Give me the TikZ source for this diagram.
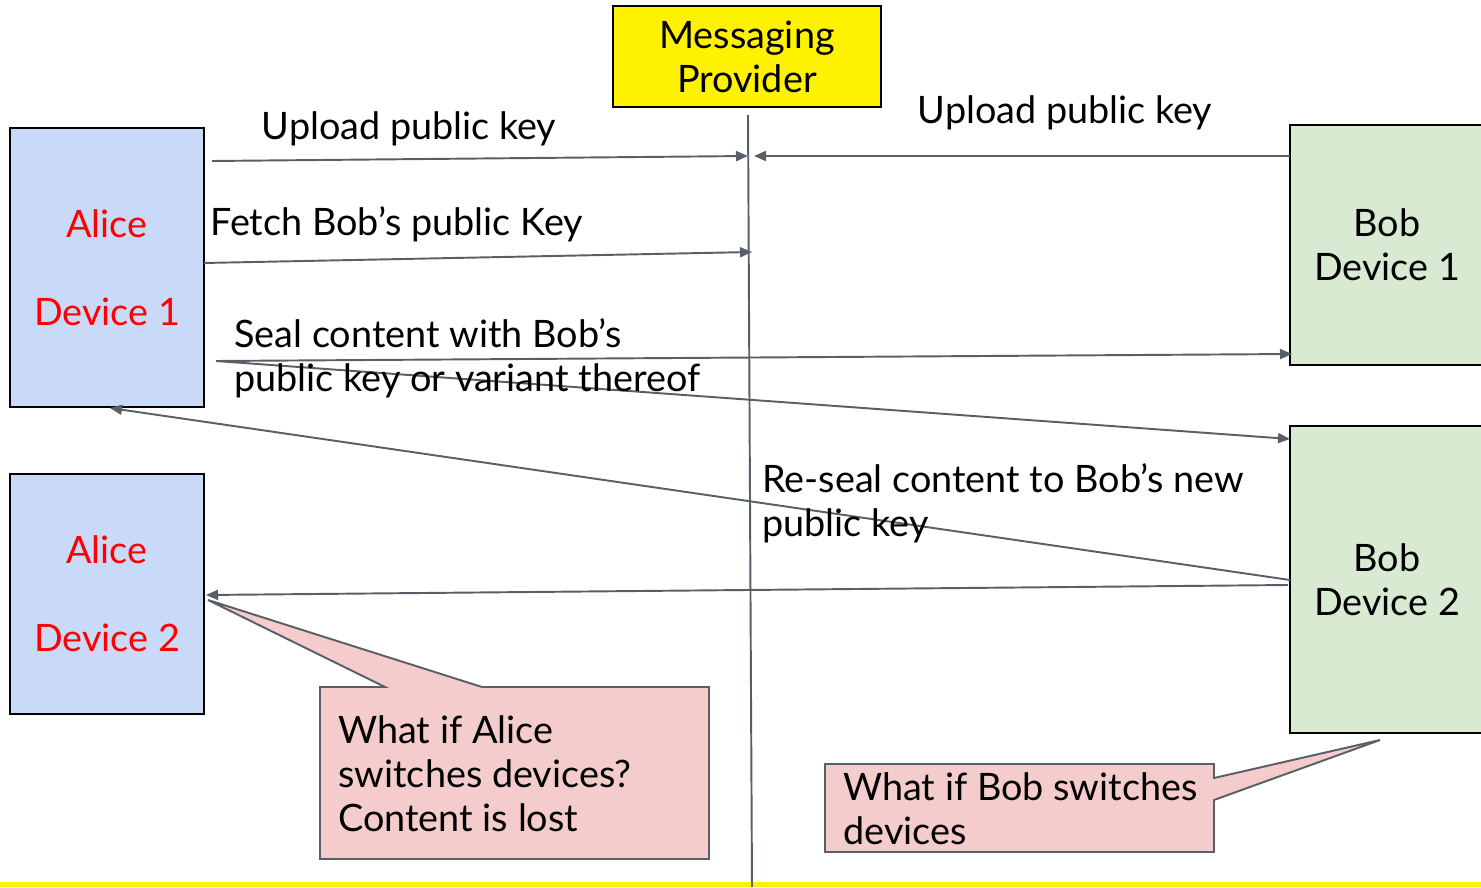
\documentclass[tikz,border=0pt]{standalone}
\usepackage{fontspec}
\setmainfont{Lato}
\usetikzlibrary{arrows.meta, positioning, calc}
\definecolor{aliceblue}{RGB}{201,218,248}
\definecolor{bobgreen}{RGB}{217,234,211}
\definecolor{notepink}{RGB}{244,204,204}
\definecolor{linegray}{RGB}{89,95,102}
\definecolor{alicered}{RGB}{255,0,0}

\tikzset{
  txt/.style={font=\fontsize{21.5}{25}\selectfont, inner sep=0pt},
  devbox/.style={draw=black, line width=1pt, minimum width=3.88cm, align=center, txt},
  msg/.style={draw=linegray, line width=1.1pt, -{Triangle[length=0.24cm, width=0.2cm]}},
  note/.style={draw=linegray, line width=1.1pt, fill=notepink, line join=miter}
}

\begin{document}
\begin{tikzpicture}
  \clip (0,0) rectangle (29.62,17.74);
  \useasboundingbox (0,0) rectangle (29.62,17.74);

  % bottom band
  \fill[yellow] (0,0) rectangle (29.62,0.1);

  % provider and its line
  \node[devbox, fill=yellow, minimum width=5.36cm, minimum height=2.02cm]
    (provider) at (14.94,16.61) {Messaging\\Provider};
  \coordinate (lineTop) at (14.96,15.44);
  \coordinate (lineBot) at (15.04,0);
  \draw[linegray, line width=1.1pt] (lineTop) -- (lineBot);

  % devices
  \node[devbox, fill=aliceblue, minimum height=5.58cm, text=alicered]
    (alice1) at (2.14,12.39) {Alice\\[0.88cm]Device 1};
  \node[devbox, fill=aliceblue, minimum height=4.8cm, text=alicered]
    (alice2) at (2.14,5.86) {Alice\\[0.88cm]Device 2};
  \node[devbox, fill=bobgreen, minimum height=4.8cm]
    (bob1) at (27.74,12.84) {Bob\\Device 1};
  \node[devbox, fill=bobgreen, minimum height=6.14cm]
    (bob2) at (27.74,6.15) {Bob\\Device 2};

  % message end points
  \coordinate (upA) at (4.24,14.52);
  \coordinate (upAend) at (14.96,14.62);
  \coordinate (upB) at (25.8,14.62);
  \coordinate (upBend) at (15.08,14.62);
  \coordinate (fetch) at (4.08,12.48);
  \coordinate (fetchEnd) at (15.04,12.70);
  \coordinate (seal) at (4.32,10.52);
  \coordinate (sealB1) at (25.84,10.66);
  \coordinate (sealB2) at (25.8,8.96);
  \coordinate (reseal) at (25.8,6.14);
  \coordinate (resealEnd) at (2.2,9.58);
  \coordinate (lost) at (25.76,6.04);
  \coordinate (lostEnd) at (4.12,5.84);

  \draw[msg] (upA) -- (upAend);
  \draw[msg] (upB) -- (upBend);
  \draw[msg] (fetch) -- (fetchEnd);
  \draw[msg] (seal) -- (sealB1);
  \draw[msg] (seal) -- (sealB2);
  \draw[msg] (reseal) -- (resealEnd);
  \draw[msg] (lost) -- (lostEnd);

  % labels
  \node[txt] (lblUpA) at (8.18,15.16) {Upload public key};
  \node[txt] (lblUpB) at (21.3,15.48) {Upload public key};
  \node[txt, anchor=west] (lblFetch) at (4.2,13.26) {Fetch Bob’s public Key};
  \node[txt, anchor=west, align=left] (lblSeal) at (4.68,10.58)
    {Seal content with Bob’s\\public key or variant thereof};
  \node[txt, anchor=west, align=left] (lblReseal) at (15.24,7.68)
    {Re-seal content to Bob’s new\\public key};

  % callouts
  \draw[note] (6.4,4.0) -- (7.7,4.0) -- (4.16,5.74) -- (9.64,4.0)
    -- (14.18,4.0) -- (14.18,0.56) -- (6.4,0.56) -- cycle;
  \node[txt, anchor=west, align=left] (noteAlice) at (6.76,2.26)
    {What if Alice\\switches devices?\\Content is lost};
  \draw[note] (16.5,2.46) -- (24.28,2.46) -- (24.28,2.18) -- (27.6,2.94)
    -- (24.28,1.74) -- (24.28,0.7) -- (16.5,0.7) -- cycle;
  \node[txt, anchor=west, align=left] (noteBob) at (16.86,1.56)
    {What if Bob switches\\devices};
\end{tikzpicture}
\end{document}
